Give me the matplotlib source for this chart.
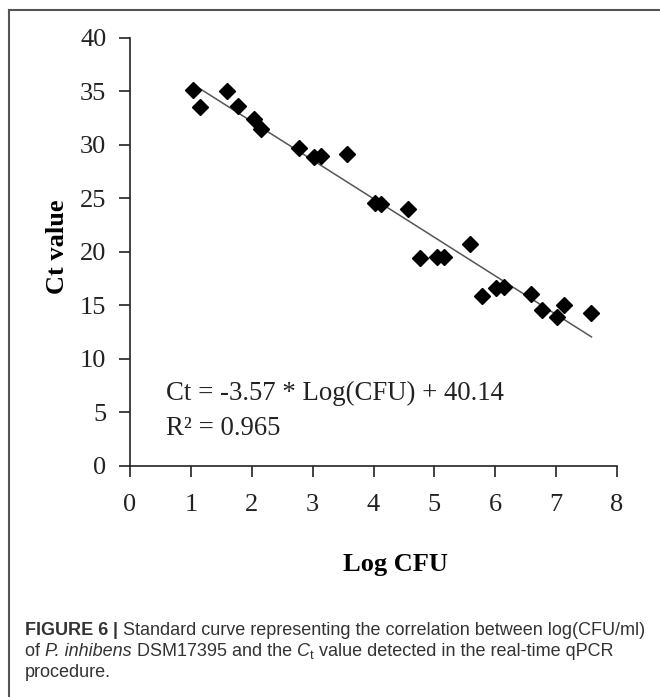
import numpy as np
import matplotlib
matplotlib.use("Agg")
import matplotlib.pyplot as plt
from matplotlib.lines import Line2D

log_cfu = [1.04, 1.15, 1.59, 1.78, 2.04, 2.15, 2.78, 3.03, 3.14, 3.57,
           4.03, 4.13, 4.57, 4.76, 5.04, 5.16, 5.58, 5.79, 6.02, 6.14,
           6.58, 6.77, 7.02, 7.13, 7.58]
ct_value = [35.1, 33.5, 35.0, 33.6, 32.4, 31.5, 29.7, 28.8, 28.9, 29.1,
            24.55, 24.5, 24.0, 19.4, 19.5, 19.5, 20.7, 15.9, 16.6, 16.7,
            16.1, 14.55, 13.95, 15.05, 14.3]
x_ticks = [0, 1, 2, 3, 4, 5, 6, 7, 8]
y_ticks = [0, 5, 10, 15, 20, 25, 30, 35, 40]
equation = "Ct = -3.57 * Log(CFU) + 40.14"
r2_text = "R\u00b2 = 0.965"

serif = ["Liberation Serif", "DejaVu Serif"]
sans = ["Liberation Sans", "DejaVu Sans"]

fig = plt.figure(figsize=(6.6, 6.97), dpi=100)
ax = fig.add_axes([130/660, 1-466/697, (617-130)/660, (466-37.5)/697])

x = np.array(log_cfu)
y = np.array(ct_value)
slope, intercept = np.polyfit(x, y, 1)
xl = np.array([x.min(), x.max()])
ax.plot(xl, slope*xl + intercept, color="#555555", lw=1.1, zorder=2)
ax.plot(x, y, linestyle="none", marker="D", markersize=8, color="black", zorder=3)

ax.set_xlim(0, 8)
ax.set_ylim(0, 40)
ax.set_xticks(x_ticks)
ax.set_yticks(y_ticks)
for s in ["top", "right"]:
    ax.spines[s].set_visible(False)
for s in ["left", "bottom"]:
    ax.spines[s].set_linewidth(1.2)
    ax.spines[s].set_color("#222222")
ax.tick_params(direction="out", length=8, width=1.2, color="#222222")
for lab in ax.get_xticklabels() + ax.get_yticklabels():
    lab.set_family(serif)
    lab.set_fontsize(19)
    lab.set_color("#222222")
ax.tick_params(axis="x", pad=12)
ax.tick_params(axis="y", pad=9)

fig.text(395/660, 1-565/697, "Log CFU", family=serif, fontweight="bold", fontsize=19,
         ha="center", va="center")
fig.text(57/660, 1-247/697, "Ct value", family=serif, fontweight="bold", fontsize=19,
         ha="center", va="center", rotation=90)

ax.text(0.59, 6.2, equation, family=serif, fontsize=19.3, color="#222222", va="baseline")
ax.text(0.59, 2.9, r2_text, family=serif, fontsize=19.3, color="#222222", va="baseline")

# frame lines (top and left)
fig.add_artist(Line2D([8.5/660, 8.5/660], [0, 1-10/697], transform=fig.transFigure,
                      color="#555555", lw=1.5))
fig.add_artist(Line2D([8.5/660, 1], [1-10/697, 1-10/697], transform=fig.transFigure,
                      color="#555555", lw=1.5))

# caption
fig.canvas.draw()
renderer = fig.canvas.get_renderer()
cap_size = 13
cap_color = "#333333"

def draw_line(pieces, x0, ybase):
    xp = x0
    for txt, kw in pieces:
        t = fig.text(xp/660, 1-ybase/697, txt, fontsize=kw.get("size", cap_size),
                     family=sans, fontweight=kw.get("weight", "normal"),
                     fontstyle=kw.get("style", "normal"), color=cap_color,
                     va="baseline", ha="left")
        if "dy" in kw:
            t.set_position((xp/660, 1-(ybase+kw["dy"])/697))
        bb = t.get_window_extent(renderer)
        xp += bb.width

draw_line([("FIGURE 6", {"weight": "bold"}), (" | ", {"weight": "bold"}),
           ("Standard curve representing the correlation between log(CFU/ml)", {})], 25, 635)
draw_line([("of ", {}), ("P. inhibens", {"style": "italic"}),
           (" DSM17395 and the ", {}), ("C", {"style": "italic"}),
           ("t", {"size": 9.5, "dy": 3}),
           (" value detected in the real-time qPCR", {})], 25, 656)
draw_line([("procedure.", {})], 25, 677)

fig.savefig("out.png", dpi=100)
